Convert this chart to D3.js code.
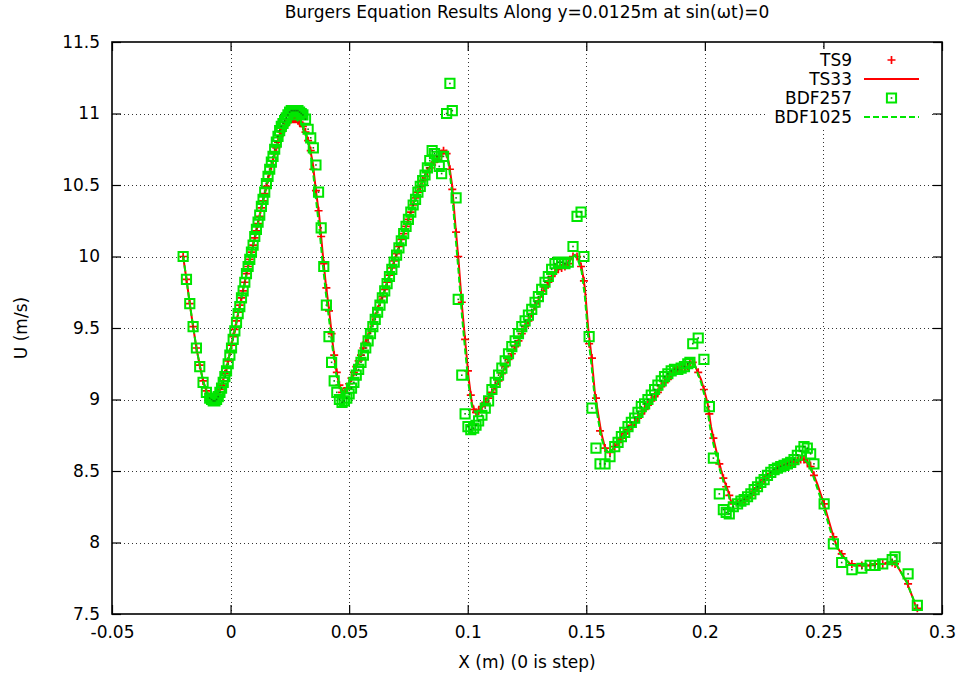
<!DOCTYPE html>
<html>
<head>
<meta charset="utf-8">
<script src="https://cdn.jsdelivr.net/npm/d3@7"></script>
<style>
  body { margin: 0; background: #fff; }
  svg { display: block; }
  text { font-family: "DejaVu Sans", "Liberation Sans", Arial, sans-serif; fill: #000; }
</style>
</head>
<body>
<svg id="chart" width="963" height="677"></svg>
<script>
// Point-solution positions along y = 0.0125 m (metres from the step)
const markX = [
  -0.0200,-0.0186,-0.0172,-0.0158,-0.0144,-0.0130,-0.0116,-0.0102,-0.0088,
  -0.0080,-0.0073,-0.0066,-0.0059,-0.0052,-0.0045,-0.0038,-0.0031,-0.0024,-0.0017,
  -0.0010,-0.0003,0.0004,0.0011,0.0018,0.0025,0.0032,0.0039,0.0046,0.0053,
  0.0060,0.0067,0.0074,0.0081,0.0088,0.0095,0.0102,0.0109,0.0116,0.0123,
  0.0130,0.0137,0.0144,0.0151,0.0158,0.0165,0.0172,0.0179,0.0186,0.0193,
  0.0200,0.0207,0.0214,0.0221,0.0228,0.0235,0.0242,0.0249,0.0256,0.0263,
  0.0270,0.0277,0.0284,0.0291,0.0298,0.0305,
  0.0316,0.0327,0.0338,0.0349,0.0360,0.0371,0.0382,0.0393,0.0404,0.0415,
  0.0426,0.0437,0.0448,0.0459,0.0470,
  0.048,0.049,0.050,0.051,0.052,0.053,0.054,0.055,0.056,0.057,
  0.058,0.059,0.060,0.061,0.062,0.063,0.064,0.065,0.066,0.067,
  0.068,0.069,0.070,0.071,0.072,0.073,0.074,0.075,0.076,0.077,
  0.078,0.079,0.080,0.081,0.082,0.083,0.084,
  0.0850,0.0860,0.0870,0.0880,0.0890,0.0898,0.0911,0.0925,0.0935,0.0951,
  0.0960,0.0975,0.0989,0.1001,0.1013,0.1025,0.1035,0.1046,
  0.1060,0.1074,0.1088,0.1102,0.1116,0.1130,0.1144,0.1158,0.1172,0.1186,
  0.1200,0.1214,0.1228,0.1242,0.1256,0.1270,0.1284,0.1298,0.1312,0.1326,
  0.1340,0.1354,0.1368,0.1382,0.1396,0.1410,0.1424,
  0.1444,0.1461,0.1478,0.1490,0.1512,0.1524,0.1541,0.1558,0.1579,0.1600,
  0.1620,0.1634,0.1648,0.1662,0.1676,0.1690,0.1704,0.1718,0.1732,0.1746,
  0.1760,0.1774,0.1788,0.1802,0.1816,0.1830,0.1844,0.1858,0.1872,0.1886,
  0.1900,0.1914,0.1928,
  0.1937,0.1949,0.1972,0.1996,0.2019,0.2036,0.2061,0.2078,0.2090,0.2103,0.2120,
  0.2138,0.2152,0.2166,0.2180,0.2194,0.2208,0.2222,0.2236,0.2250,0.2264,
  0.2278,0.2292,0.2306,0.2320,0.2334,0.2348,0.2362,0.2376,0.2390,0.2404,
  0.2418,0.2432,0.2446,0.2460,
  0.2503,0.2542,0.2577,0.2620,0.2662,0.2697,0.2718,0.2750,0.2790,0.2802,0.2857,0.2896
];

// U (m/s), 9-term Taylor series solution at markX
const ts9U = [
  10.00,9.84,9.67,9.51,9.36,9.24,9.13,9.06,9.02,
  9.01,9.01,9.02,9.03,9.05,9.07,9.10,9.13,9.18,9.22,
  9.27,9.33,9.38,9.44,9.49,9.55,9.61,9.66,9.71,9.76,
  9.82,9.88,9.93,9.98,10.03,10.08,10.13,10.18,10.23,10.28,
  10.34,10.39,10.44,10.49,10.54,10.59,10.63,10.67,10.72,10.76,
  10.80,10.84,10.87,10.89,10.91,10.93,10.94,10.95,10.96,10.96,
  10.96,10.96,10.95,10.94,10.93,10.91,
  10.87,10.81,10.74,10.61,10.46,10.32,10.14,9.95,9.78,9.62,
  9.46,9.31,9.19,9.10,9.05,
  9.06,9.08,9.11,9.15,9.19,9.23,9.27,9.31,9.36,9.40,
  9.44,9.49,9.54,9.58,9.63,9.68,9.72,9.77,9.82,9.87,
  9.92,9.97,10.02,10.07,10.12,10.16,10.21,10.26,10.31,10.36,
  10.41,10.45,10.49,10.53,10.56,10.59,10.62,
  10.64,10.66,10.68,10.70,10.72,10.74,10.72,10.61,10.47,10.17,
  10.00,9.68,9.42,9.20,9.03,8.93,8.91,8.92,
  8.95,8.98,9.01,9.05,9.09,9.13,9.18,9.23,9.28,9.32,
  9.37,9.41,9.46,9.51,9.55,9.60,9.65,9.69,9.74,9.78,
  9.82,9.86,9.89,9.91,9.92,9.93,9.95,
  10.00,10.00,9.93,9.83,9.39,9.29,9.01,8.78,8.66,8.63,
  8.67,8.70,8.73,8.76,8.79,8.82,8.84,8.87,8.90,8.93,
  8.96,8.99,9.02,9.05,9.09,9.12,9.14,9.17,9.20,9.21,
  9.22,9.22,9.23,
  9.26,9.26,9.19,9.07,8.90,8.73,8.55,8.45,8.39,8.33,8.27,
  8.27,8.28,8.29,8.31,8.33,8.36,8.38,8.41,8.44,8.46,
  8.48,8.50,8.51,8.52,8.53,8.54,8.55,8.56,8.57,8.58,
  8.58,8.56,8.53,8.47,
  8.27,8.04,7.92,7.85,7.84,7.84,7.85,7.85,7.86,7.85,7.71,7.54
];

// U (m/s), BDF solution with 257 points at markX
const bdf257U = [
  10.00,9.84,9.67,9.51,9.36,9.23,9.12,9.05,9.01,
  9.00,8.99,8.99,9.00,9.02,9.05,9.08,9.12,9.16,9.20,
  9.25,9.31,9.36,9.42,9.48,9.54,9.60,9.65,9.71,9.76,
  9.82,9.88,9.93,9.98,10.03,10.08,10.14,10.19,10.24,10.29,
  10.35,10.40,10.45,10.51,10.56,10.61,10.66,10.70,10.75,10.80,
  10.84,10.88,10.91,10.93,10.95,10.97,10.99,11.01,11.02,11.02,
  11.02,11.02,11.02,11.01,11.00,10.99,
  10.96,10.89,10.83,10.76,10.64,10.45,10.20,9.93,9.66,9.44,
  9.26,9.13,9.05,9.00,8.98,
  8.99,9.01,9.04,9.08,9.12,9.17,9.21,9.26,9.31,9.36,
  9.41,9.46,9.51,9.56,9.61,9.66,9.71,9.76,9.81,9.86,
  9.91,9.96,10.01,10.06,10.11,10.16,10.21,10.26,10.31,10.36,
  10.40,10.45,10.49,10.53,10.57,10.62,10.67,
  10.74,10.72,10.70,10.63,10.58,10.70,11.00,11.21,11.02,10.41,
  9.70,9.17,8.90,8.81,8.79,8.80,8.82,8.85,
  8.89,8.94,8.99,9.07,9.12,9.17,9.22,9.27,9.32,9.37,
  9.41,9.46,9.51,9.55,9.59,9.63,9.68,9.72,9.77,9.82,
  9.86,9.91,9.95,9.96,9.96,9.95,9.96,
  10.07,10.28,10.31,10.00,9.44,8.94,8.66,8.55,8.55,8.60,
  8.67,8.70,8.74,8.77,8.81,8.84,8.87,8.91,8.95,8.97,
  9.00,9.03,9.07,9.10,9.13,9.16,9.18,9.20,9.21,9.21,
  9.22,9.23,9.25,
  9.26,9.39,9.43,9.28,8.95,8.59,8.34,8.23,8.21,8.20,8.25,
  8.27,8.29,8.30,8.32,8.34,8.37,8.39,8.42,8.44,8.47,
  8.49,8.51,8.52,8.53,8.54,8.55,8.56,8.58,8.61,8.64,
  8.67,8.66,8.62,8.55,
  8.27,7.99,7.86,7.81,7.82,7.84,7.84,7.85,7.88,7.90,7.78,7.56
];

// Curve positions for the two line solutions
const lineX = [
  -0.0200,-0.0186,-0.0172,-0.0158,-0.0144,-0.0130,-0.0116,-0.0102,-0.0088,-0.0074,
  -0.0060,-0.0046,-0.0032,-0.0018,-0.0004,0.0010,0.0024,0.0038,0.0052,0.0066,
  0.0080,0.0094,0.0108,0.0122,0.0136,0.0150,0.0164,0.0178,0.0192,0.0206,
  0.0220,0.0234,0.0248,0.0262,0.0276,0.0290,0.0304,0.0318,0.0332,0.0346,
  0.0360,0.0374,0.0388,0.0402,0.0416,0.0430,0.0444,0.0458,0.0472,0.0486,
  0.0500,0.0514,0.0528,0.0542,0.0556,0.0570,0.0584,0.0598,0.0612,0.0626,
  0.0640,0.0654,0.0668,0.0682,0.0696,0.0710,0.0724,0.0738,0.0752,0.0766,
  0.0780,0.0794,0.0808,0.0822,0.0836,0.0850,0.0864,0.0878,0.0892,0.0906,
  0.0920,0.0934,0.0948,0.0962,0.0976,0.0990,0.1004,0.1018,0.1032,0.1046,
  0.1060,0.1074,0.1088,0.1102,0.1116,0.1130,0.1144,0.1158,0.1172,0.1186,
  0.1200,0.1214,0.1228,0.1242,0.1256,0.1270,0.1284,0.1298,0.1312,0.1326,
  0.1340,0.1354,0.1368,0.1382,0.1396,0.1410,0.1424,0.1438,0.1452,0.1466,
  0.1480,0.1494,0.1508,0.1522,0.1536,0.1550,0.1564,0.1578,0.1592,0.1606,
  0.1620,0.1634,0.1648,0.1662,0.1676,0.1690,0.1704,0.1718,0.1732,0.1746,
  0.1760,0.1774,0.1788,0.1802,0.1816,0.1830,0.1844,0.1858,0.1872,0.1886,
  0.1900,0.1914,0.1928,0.1942,0.1956,0.1970,0.1984,0.1998,0.2012,0.2026,
  0.2040,0.2054,0.2068,0.2082,0.2096,0.2110,0.2124,0.2138,0.2152,0.2166,
  0.2180,0.2194,0.2208,0.2222,0.2236,0.2250,0.2264,0.2278,0.2292,0.2306,
  0.2320,0.2334,0.2348,0.2362,0.2376,0.2390,0.2404,0.2418,0.2432,0.2446,
  0.2460,0.2474,0.2488,0.2502,0.2516,0.2530,0.2544,0.2558,0.2572,0.2586,
  0.2600,0.2614,0.2628,0.2642,0.2656,0.2670,0.2684,0.2698,0.2712,0.2726,
  0.2740,0.2754,0.2768,0.2782,0.2796,0.2810,0.2824,0.2838,0.2852,0.2866,
  0.2880,0.2894
];

// U (m/s), 33-term Taylor series solution at lineX
const ts33U = [
  10.00,9.84,9.67,9.51,9.36,9.24,9.13,9.06,9.02,9.01,
  9.03,9.07,9.13,9.21,9.32,9.43,9.54,9.65,9.76,9.87,
  9.97,10.07,10.17,10.28,10.38,10.48,10.58,10.67,10.76,10.83,
  10.89,10.93,10.95,10.96,10.96,10.94,10.91,10.86,10.78,10.66,
  10.46,10.28,10.03,9.80,9.62,9.40,9.22,9.10,9.05,9.07,
  9.11,9.16,9.22,9.28,9.34,9.40,9.46,9.53,9.59,9.66,
  9.72,9.79,9.86,9.93,10.00,10.07,10.14,10.20,10.27,10.34,
  10.41,10.47,10.52,10.57,10.61,10.64,10.67,10.70,10.73,10.74,
  10.66,10.50,10.22,9.96,9.65,9.40,9.15,8.97,8.91,8.92,
  8.95,8.98,9.01,9.05,9.09,9.13,9.18,9.23,9.28,9.32,
  9.37,9.41,9.46,9.51,9.55,9.60,9.65,9.69,9.74,9.78,
  9.82,9.86,9.89,9.91,9.92,9.93,9.95,9.99,10.01,9.98,
  9.93,9.78,9.50,9.30,9.05,8.90,8.76,8.67,8.63,8.64,
  8.67,8.70,8.73,8.76,8.79,8.82,8.84,8.87,8.90,8.93,
  8.96,8.99,9.02,9.05,9.09,9.12,9.14,9.17,9.20,9.21,
  9.22,9.22,9.23,9.26,9.25,9.19,9.14,9.06,8.97,8.81,
  8.70,8.60,8.51,8.43,8.37,8.29,8.27,8.27,8.28,8.29,
  8.31,8.33,8.36,8.38,8.41,8.44,8.46,8.48,8.50,8.51,
  8.52,8.53,8.54,8.55,8.56,8.57,8.58,8.58,8.56,8.53,
  8.47,8.41,8.34,8.27,8.19,8.11,8.03,7.97,7.93,7.90,
  7.87,7.85,7.84,7.84,7.84,7.84,7.84,7.84,7.85,7.85,
  7.85,7.85,7.86,7.86,7.86,7.84,7.80,7.76,7.72,7.66,
  7.60,7.53
];

// U (m/s), BDF solution with 1025 points at lineX
const bdf1025U = [
  10.00,9.84,9.67,9.51,9.36,9.24,9.13,9.06,9.02,9.01,
  9.03,9.07,9.13,9.21,9.32,9.43,9.54,9.65,9.76,9.87,
  9.97,10.07,10.17,10.28,10.38,10.48,10.58,10.67,10.76,10.83,
  10.89,10.93,10.95,10.96,10.96,10.94,10.91,10.86,10.77,10.62,
  10.40,10.20,9.96,9.74,9.55,9.36,9.19,9.08,9.05,9.07,
  9.11,9.16,9.22,9.28,9.34,9.40,9.46,9.53,9.59,9.66,
  9.72,9.79,9.86,9.93,10.00,10.07,10.14,10.20,10.27,10.34,
  10.41,10.47,10.52,10.57,10.61,10.64,10.67,10.70,10.73,10.74,
  10.64,10.45,10.15,9.88,9.58,9.33,9.10,8.95,8.91,8.92,
  8.95,8.98,9.01,9.05,9.09,9.13,9.18,9.23,9.28,9.32,
  9.37,9.41,9.46,9.51,9.55,9.60,9.65,9.69,9.74,9.78,
  9.82,9.86,9.89,9.91,9.92,9.93,9.95,9.99,10.01,9.97,
  9.90,9.72,9.44,9.24,9.00,8.86,8.73,8.66,8.63,8.64,
  8.67,8.70,8.73,8.76,8.79,8.82,8.84,8.87,8.90,8.93,
  8.96,8.99,9.02,9.05,9.09,9.12,9.14,9.17,9.20,9.21,
  9.22,9.22,9.23,9.26,9.25,9.18,9.12,9.03,8.92,8.76,
  8.66,8.57,8.48,8.41,8.35,8.28,8.27,8.27,8.28,8.29,
  8.31,8.33,8.36,8.38,8.41,8.44,8.46,8.48,8.50,8.51,
  8.52,8.53,8.54,8.55,8.56,8.57,8.58,8.58,8.56,8.52,
  8.45,8.38,8.31,8.24,8.16,8.08,8.01,7.96,7.92,7.89,
  7.87,7.85,7.84,7.84,7.84,7.84,7.84,7.84,7.85,7.85,
  7.85,7.85,7.86,7.86,7.86,7.84,7.80,7.76,7.72,7.66,
  7.60,7.53
];

const xTickValues = [-0.05, 0, 0.05, 0.1, 0.15, 0.2, 0.25, 0.3];
const xTickLabels = ["-0.05", "0", "0.05", "0.1", "0.15", "0.2", "0.25", "0.3"];
const yTickValues = [7.5, 8, 8.5, 9, 9.5, 10, 10.5, 11, 11.5];
const yTickLabels = ["7.5", "8", "8.5", "9", "9.5", "10", "10.5", "11", "11.5"];
const seriesNames = ["TS9", "TS33", "BDF257", "BDF1025"];

const titleText = "Burgers Equation Results Along y=0.0125m at sin(\u03c9t)=0";
const xLabelText = "X (m) (0 is step)";
const yLabelText = "U (m/s)";

// ---- layout ----
const plot = { left: 112, right: 942, top: 42, bottom: 614 };
const RED = "#ff0000";
const GREEN = "#00e600";
const FONT = 17;
const TICK = 9;

const svg = d3.select("#chart");
const x = d3.scaleLinear().domain([-0.05, 0.3]).range([plot.left, plot.right]);
const y = d3.scaleLinear().domain([7.5, 11.5]).range([plot.bottom, plot.top]);

svg.append("rect").attr("width", 963).attr("height", 677).attr("fill", "#fff");

svg.append("defs").append("clipPath").attr("id", "plotClip")
  .append("rect")
  .attr("x", plot.left).attr("y", plot.top)
  .attr("width", plot.right - plot.left).attr("height", plot.bottom - plot.top);

// dotted grid
const grid = svg.append("g").attr("stroke", "#333").attr("stroke-width", 1)
  .attr("stroke-dasharray", "1,3").attr("fill", "none");
xTickValues.slice(1, -1).forEach(v => {
  grid.append("line")
    .attr("x1", Math.round(x(v)) + 0.5).attr("x2", Math.round(x(v)) + 0.5)
    .attr("y1", plot.top).attr("y2", plot.bottom);
});
yTickValues.slice(1, -1).forEach(v => {
  grid.append("line")
    .attr("x1", plot.left).attr("x2", plot.right)
    .attr("y1", Math.round(y(v)) + 0.5).attr("y2", Math.round(y(v)) + 0.5);
});

// axes with inward ticks (mirrored on top and right)
const xAxis = d3.axisBottom(x).tickValues(xTickValues)
  .tickFormat((d, i) => xTickLabels[i]).tickSizeInner(-TICK).tickSizeOuter(0).tickPadding(12);
const yAxis = d3.axisLeft(y).tickValues(yTickValues)
  .tickFormat((d, i) => yTickLabels[i]).tickSizeInner(-TICK).tickSizeOuter(0).tickPadding(12);
const xTop = d3.axisTop(x).tickValues(xTickValues).tickFormat("").tickSizeInner(-TICK).tickSizeOuter(0);
const yRight = d3.axisRight(y).tickValues(yTickValues).tickFormat("").tickSizeInner(-TICK).tickSizeOuter(0);

function styleAxis(g) {
  g.select(".domain").remove();
  g.selectAll(".tick line").attr("stroke", "#000").attr("stroke-width", 1.2);
  g.selectAll(".tick text").attr("font-size", FONT).attr("fill", "#000")
    .attr("font-family", "'DejaVu Sans', 'Liberation Sans', Arial, sans-serif");
}
svg.append("g").attr("transform", `translate(0,${plot.bottom})`).call(xAxis).call(styleAxis);
svg.append("g").attr("transform", `translate(${plot.left},0)`).call(yAxis).call(styleAxis);
svg.append("g").attr("transform", `translate(0,${plot.top})`).call(xTop).call(styleAxis);
svg.append("g").attr("transform", `translate(${plot.right},0)`).call(yRight).call(styleAxis);

// legend sits on an opaque key box
const legend = { textRight: 852, sampleL: 864, sampleR: 919, rows: [60, 79, 98, 117] };
svg.append("rect").attr("x", 766).attr("y", 49).attr("width", 166).attr("height", 78).attr("fill", "#fff");

const marks = svg.append("g").attr("clip-path", "url(#plotClip)");

const plusPath = (cx, cy, r) => `M${cx - r},${cy}H${cx + r}M${cx},${cy - r}V${cy + r}`;
const boxPath = (cx, cy, r) => `M${cx - r},${cy - r}H${cx + r}V${cy + r}H${cx - r}Z`;
const BOX = 4.6;

// TS9: plus markers
marks.append("path")
  .attr("d", markX.map((v, i) => plusPath(x(v), y(ts9U[i]), 4)).join(""))
  .attr("stroke", RED).attr("stroke-width", 1.7).attr("fill", "none");

// TS33: solid line
const line = d3.line().x(d => x(d[0])).y(d => y(d[1]));
marks.append("path")
  .attr("d", line(lineX.map((v, i) => [v, ts33U[i]])))
  .attr("stroke", RED).attr("stroke-width", 2).attr("fill", "none")
  .attr("stroke-linejoin", "round");

// BDF257: boxes with a centre dot
marks.append("path")
  .attr("d", markX.map((v, i) => boxPath(x(v), y(bdf257U[i]), BOX)).join(""))
  .attr("stroke", GREEN).attr("stroke-width", 2).attr("fill", "none");
marks.append("g").selectAll("rect").data(markX).join("rect")
  .attr("x", (v) => x(v) - 0.8).attr("y", (v, i) => y(bdf257U[i]) - 0.8)
  .attr("width", 1.6).attr("height", 1.6).attr("fill", "#0a8a0a");

// BDF1025: dashed line
marks.append("path")
  .attr("d", line(lineX.map((v, i) => [v, bdf1025U[i]])))
  .attr("stroke", GREEN).attr("stroke-width", 2).attr("fill", "none")
  .attr("stroke-dasharray", "6,3");

// frame
svg.append("rect")
  .attr("x", plot.left).attr("y", plot.top)
  .attr("width", plot.right - plot.left).attr("height", plot.bottom - plot.top)
  .attr("fill", "none").attr("stroke", "#000").attr("stroke-width", 1.6);

// legend entries
const lg = svg.append("g");
seriesNames.forEach((name, i) => {
  lg.append("text").attr("x", legend.textRight).attr("y", legend.rows[i])
    .attr("dy", "0.36em").attr("text-anchor", "end").attr("font-size", FONT).text(name);
});
const mid = (legend.sampleL + legend.sampleR) / 2;
lg.append("path").attr("d", plusPath(mid, legend.rows[0], 4))
  .attr("stroke", RED).attr("stroke-width", 1.7);
lg.append("line").attr("x1", legend.sampleL).attr("x2", legend.sampleR)
  .attr("y1", legend.rows[1]).attr("y2", legend.rows[1])
  .attr("stroke", RED).attr("stroke-width", 2);
lg.append("path").attr("d", boxPath(mid, legend.rows[2], BOX))
  .attr("stroke", GREEN).attr("stroke-width", 2).attr("fill", "none");
lg.append("rect").attr("x", mid - 0.8).attr("y", legend.rows[2] - 0.8)
  .attr("width", 1.6).attr("height", 1.6).attr("fill", "#0a8a0a");
lg.append("line").attr("x1", legend.sampleL).attr("x2", legend.sampleR)
  .attr("y1", legend.rows[3]).attr("y2", legend.rows[3])
  .attr("stroke", GREEN).attr("stroke-width", 2).attr("stroke-dasharray", "6,3");

// titles
svg.append("text").attr("x", (plot.left + plot.right) / 2).attr("y", 18)
  .attr("text-anchor", "middle").attr("font-size", FONT).text(titleText);
svg.append("text").attr("x", (plot.left + plot.right) / 2).attr("y", 668)
  .attr("text-anchor", "middle").attr("font-size", FONT).text(xLabelText);
svg.append("text").attr("transform", `translate(27,${(plot.top + plot.bottom) / 2}) rotate(-90)`)
  .attr("text-anchor", "middle").attr("font-size", FONT).text(yLabelText);
</script>
</body>
</html>
